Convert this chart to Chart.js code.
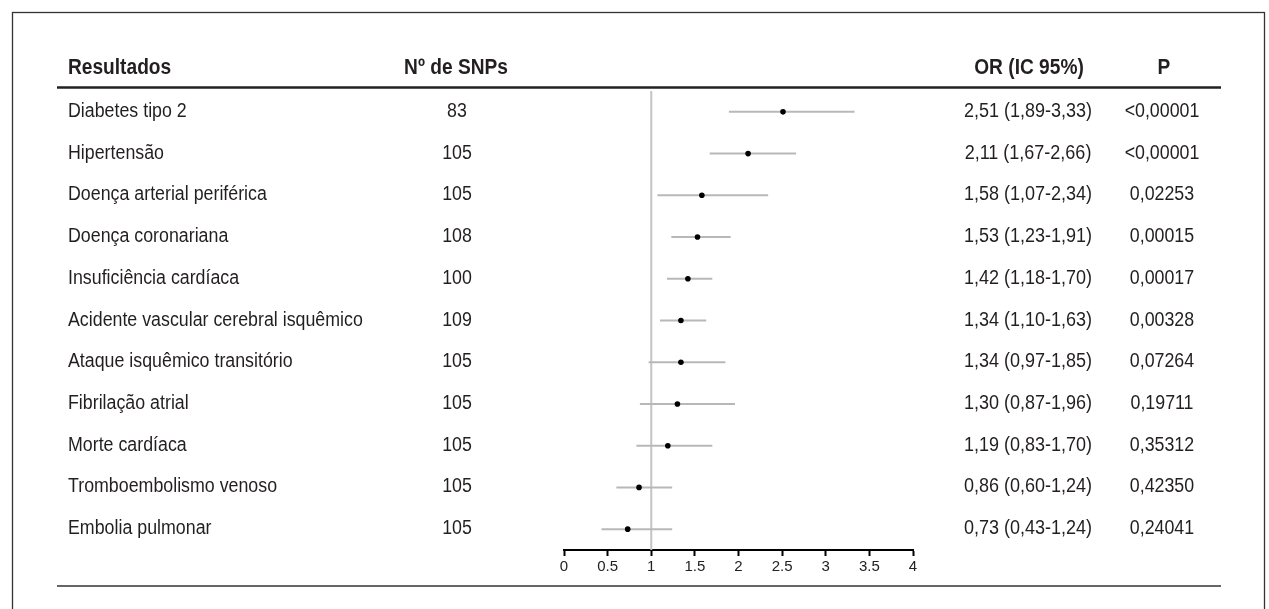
<!DOCTYPE html>
<html>
<head>
<meta charset="utf-8">
<script src="https://cdn.jsdelivr.net/npm/chart.js@4.4.1/dist/chart.umd.min.js"></script>
<style>
html,body{margin:0;padding:0;background:#fff;}
canvas{display:block;}
</style>
</head>
<body>
<canvas id="c" width="1269" height="609"></canvas>
<script>
const outcomes = ['Diabetes tipo 2','Hipertensão','Doença arterial periférica','Doença coronariana','Insuficiência cardíaca','Acidente vascular cerebral isquêmico','Ataque isquêmico transitório','Fibrilação atrial','Morte cardíaca','Tromboembolismo venoso','Embolia pulmonar'];
const snps = [83,105,105,108,100,109,105,105,105,105,105];
const orValues = [2.51,2.11,1.58,1.53,1.42,1.34,1.34,1.30,1.19,0.86,0.73];
const ciLow = [1.89,1.67,1.07,1.23,1.18,1.10,0.97,0.87,0.83,0.60,0.43];
const ciHigh = [3.33,2.66,2.34,1.91,1.70,1.63,1.85,1.96,1.70,1.24,1.24];
const pValues = ['<0,00001','<0,00001','0,02253','0,00015','0,00017','0,00328','0,07264','0,19711','0,35312','0,42350','0,24041'];
const headers = ['Resultados','Nº de SNPs','OR (IC 95%)','P'];
const xTickLabels = ['0','0.5','1','1.5','2','2.5','3','3.5','4'];
const refValue = 1;

const FONT = "'Liberation Sans',Arial,sans-serif";
const fmt = v => v.toFixed(2).replace('.', ',');

const datasets = [];
// reference line at OR = 1
datasets.push({
  type:'line', data:[{x:refValue,y:-0.5},{x:refValue,y:10.5}],
  borderColor:'#c4c4c4', borderWidth:2, pointRadius:0, order:3
});
// confidence intervals
outcomes.forEach((o,i)=>{
  datasets.push({
    type:'line', data:[{x:ciLow[i],y:i},{x:ciHigh[i],y:i}],
    borderColor:'#b8b8b8', borderWidth:2, pointRadius:0, order:2
  });
});
// point estimates
datasets.push({
  type:'scatter', data:orValues.map((v,i)=>({x:v,y:i})),
  backgroundColor:'#000', borderColor:'#000', pointRadius:2.8, borderWidth:0, order:1
});

function narrowText(ctx, text, x, y, align, sx){
  ctx.save();
  ctx.translate(x, y);
  ctx.scale(sx, 1);
  ctx.textAlign = align;
  ctx.fillText(text, 0, 0);
  ctx.restore();
}

const tablePlugin = {
  id:'table',
  beforeDraw(chart){
    const ctx = chart.ctx;
    ctx.save();
    ctx.fillStyle = '#fff';
    ctx.fillRect(0,0,chart.width,chart.height);
    ctx.restore();
  },
  afterDraw(chart){
    const ctx = chart.ctx;
    const ys = chart.scales.y;
    ctx.save();
    // outer frame
    ctx.strokeStyle = '#333';
    ctx.lineWidth = 1.3;
    ctx.strokeRect(12.5, 12.5, 1252, 620);
    // header line
    ctx.strokeStyle = '#222';
    ctx.lineWidth = 2.7;
    ctx.beginPath(); ctx.moveTo(57, 87.5); ctx.lineTo(1221, 87.5); ctx.stroke();
    // bottom line
    ctx.strokeStyle = '#333';
    ctx.lineWidth = 1.5;
    ctx.beginPath(); ctx.moveTo(57, 586); ctx.lineTo(1221, 586); ctx.stroke();

    // headers
    ctx.fillStyle = '#231f20';
    ctx.textBaseline = 'alphabetic';
    ctx.font = 'bold 22px ' + FONT;
    narrowText(ctx, headers[0], 68, 74, 'left', 0.87);
    narrowText(ctx, headers[1], 456, 74, 'center', 0.87);
    narrowText(ctx, headers[2], 1029, 74, 'center', 0.87);
    narrowText(ctx, headers[3], 1164, 74, 'center', 0.87);

    // rows
    ctx.font = '20px ' + FONT;
    outcomes.forEach((o,i)=>{
      const y = ys.getPixelForValue(i) + 5;
      narrowText(ctx, o, 68, y, 'left', 0.89);
      narrowText(ctx, String(snps[i]), 457, y, 'center', 0.89);
      narrowText(ctx, fmt(orValues[i]) + ' (' + fmt(ciLow[i]) + '-' + fmt(ciHigh[i]) + ')', 1028, y, 'center', 0.9);
      narrowText(ctx, pValues[i], 1162, y, 'center', 0.89);
    });
    ctx.restore();
  }
};

new Chart(document.getElementById('c'), {
  data:{datasets},
  options:{
    responsive:false, animation:false,
    layout:{padding:{left:564, right:356, top:91, bottom:14}},
    plugins:{legend:{display:false}, tooltip:{enabled:false}},
    scales:{
      x:{
        type:'linear', min:0, max:4,
        border:{display:true, color:'#000', width:2},
        grid:{display:true, drawOnChartArea:false, drawTicks:true, tickLength:6, tickColor:'#000', tickWidth:2},
        ticks:{stepSize:0.5, padding:2, color:'#222', font:{family:FONT, size:15},
          callback:(v,i)=>xTickLabels[i]},
        afterFit(s){ s.height = 45; }
      },
      y:{type:'linear', min:-0.5, max:10.5, reverse:true, display:false}
    }
  },
  plugins:[tablePlugin]
});
</script>
</body>
</html>
